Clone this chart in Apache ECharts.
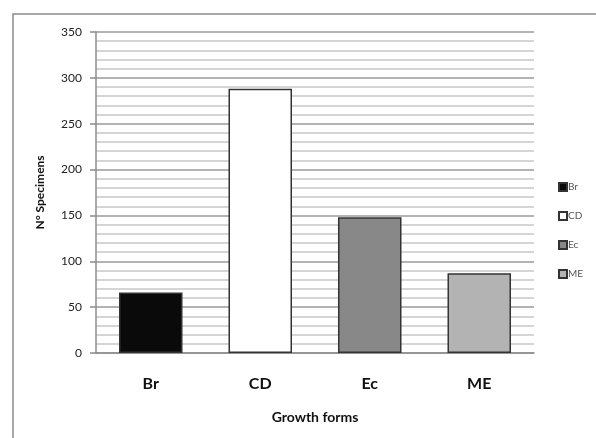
<!DOCTYPE html>
<html>
<head>
<meta charset="utf-8">
<script src="https://cdn.jsdelivr.net/npm/echarts@6/dist/echarts.min.js"></script>
<style>
  html, body { margin: 0; padding: 0; background: #fff; }
  #chart { width: 596px; height: 438px; }
</style>
</head>
<body>
<div id="chart"></div>
<script>
    // growth forms and specimen counts
    var categories = ['Br', 'CD', 'Ec', 'ME'];
    var counts = [66, 288, 148, 87];
    var barColors = ['#0a0a0a', '#ffffff', '#888888', '#b3b3b3'];
    var yTicks = { min: 0, max: 350, interval: 50 };

    var chart = echarts.init(document.getElementById('chart'));

    // one series per form so the legend lists them; stacked so each bar stays centred
    var series = categories.map(function (name, i) {
        var data = categories.map(function (c, j) { return j === i ? counts[i] : '-'; });
        return {
            name: name,
            type: 'bar',
            stack: 'forms',
            barWidth: '58%',
            data: data,
            itemStyle: {
                color: barColors[i],
                borderColor: '#333333',
                borderWidth: 1.5
            }
        };
    });

    chart.setOption({
        animation: false,
        textStyle: { fontFamily: 'Lato, "Open Sans", sans-serif' },
        graphic: [{
            type: 'polyline',
            shape: { points: [[13, 440], [13, 14], [600, 14]] },
            style: { stroke: '#8a8a8a', lineWidth: 1.5, fill: null }
        }],
        legend: {
            orient: 'vertical',
            left: 553,
            top: 177,
            itemWidth: 8,
            itemHeight: 8,
            itemGap: 19,
            icon: 'rect',
            textStyle: { fontSize: 10, color: '#555', padding: [0, 0, 0, -4] },
            data: categories
        },
        grid: { left: 96, right: 62, top: 32, bottom: 85 },
        xAxis: {
            type: 'category',
            data: categories,
            name: 'Growth forms',
            nameLocation: 'middle',
            nameGap: 57,
            nameTextStyle: { fontSize: 14, fontWeight: 'bold', color: '#111' },
            axisLine: { lineStyle: { color: '#8c8c8c', width: 1.5 } },
            axisTick: { show: false },
            axisLabel: { fontSize: 16, fontWeight: 'bold', color: '#111', margin: 23 }
        },
        yAxis: {
            type: 'value',
            min: yTicks.min,
            max: yTicks.max,
            interval: yTicks.interval,
            name: 'N° Specimens',
            nameLocation: 'middle',
            nameGap: 50,
            nameTextStyle: { fontSize: 12, fontWeight: 'bold', color: '#111' },
            axisLine: { show: true, lineStyle: { color: '#8c8c8c', width: 1.5 } },
            axisTick: { show: true, length: 6, lineStyle: { color: '#8c8c8c', width: 1.5 } },
            axisLabel: { fontSize: 12, color: '#222', margin: 14 },
            splitLine: { lineStyle: { color: '#9a9a9a', width: 1.5 } },
            minorTick: { show: false, splitNumber: 5 },
            minorSplitLine: { show: true, lineStyle: { color: '#c8c8c8', width: 1.5 } }
        },
        series: series
    });
</script>
</body>
</html>
